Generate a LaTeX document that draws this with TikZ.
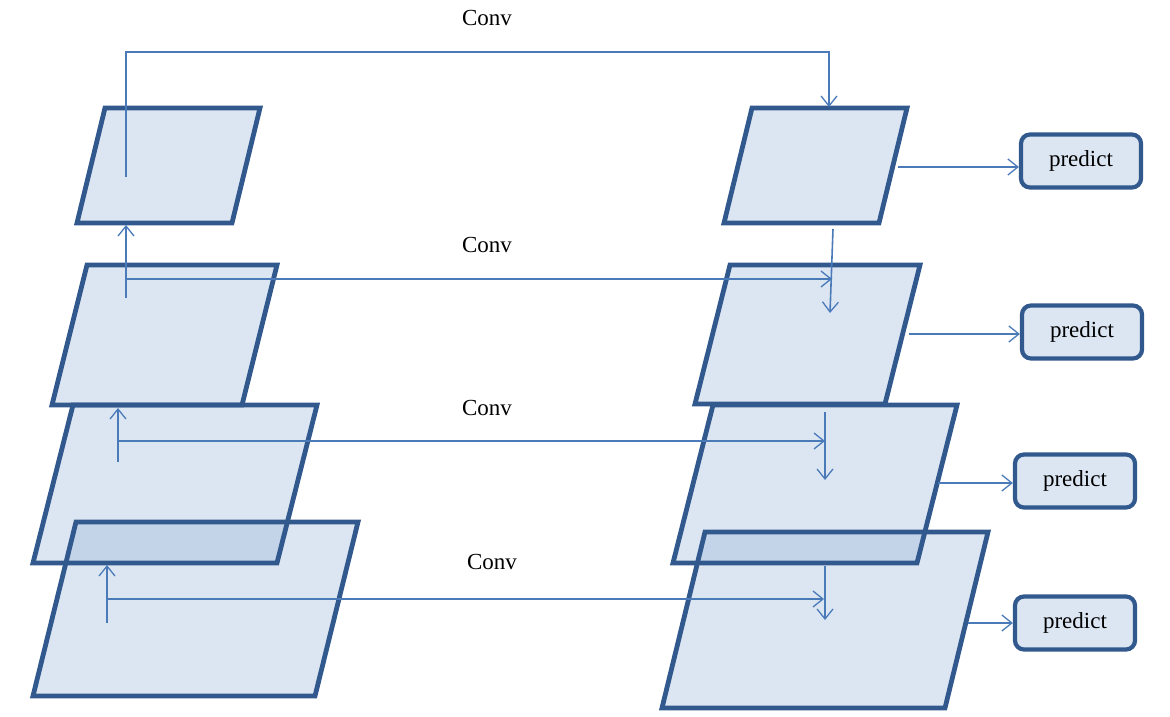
\documentclass[tikz,border=0pt]{standalone}
\usepackage{fontspec}
\setmainfont{Liberation Serif}
\usepackage{xcolor}
\usetikzlibrary{arrows.meta}
\definecolor{PlaneFill}{RGB}{220,230,242}
\definecolor{PlaneOver}{RGB}{195,212,233}
\definecolor{PlaneEdge}{RGB}{50,89,142}
\definecolor{LinkBlue}{RGB}{74,122,184}

\begin{document}
\begin{tikzpicture}[x=1pt,y=-1pt,
  plane/.style={draw=PlaneEdge,line width=4.8pt,line join=miter},
  pbox/.style={rounded corners=9pt,draw=PlaneEdge,line width=4.2pt,fill=PlaneFill,minimum width=120pt,minimum height=53pt,inner sep=0pt,font=\fontsize{23}{26}\selectfont},
  arr/.style={-{Straight Barb[length=10pt,width=16pt,line width=1.3pt]},LinkBlue,line width=1.6pt},
  lbl/.style={font=\fontsize{23}{26}\selectfont}
]
\useasboundingbox (0,0) rectangle (1170,717);
% corners of the feature planes: name/left x/top y/width/height/slant
\foreach \n/\tx/\ty/\w/\h/\s in {l1/105/108/155/115/28, l2/87/265/190/140/35,
    l3/73/405/244/158/40, l4/76/522/282/174/43, r1/752/108/155/115/28,
    r2/730/265/190/139/35, r3/713/405/244/158/40, r4/705/532/283/176/43}{
  \coordinate (\n-nw) at (\tx,\ty);
  \coordinate (\n-ne) at (\tx+\w,\ty);
  \coordinate (\n-se) at (\tx+\w-\s,\ty+\h);
  \coordinate (\n-sw) at (\tx-\s,\ty+\h);
}
\foreach \n in {l1,l2,l3,l4,r1,r2,r3,r4}
  \fill[PlaneFill] (\n-nw) -- (\n-ne) -- (\n-se) -- (\n-sw) -- cycle;
% darker band where the two lower planes overlap
\foreach \a/\b in {l3/l4, r3/r4}{
  \begin{scope}
    \clip (\a-nw) -- (\a-ne) -- (\a-se) -- (\a-sw) -- cycle;
    \fill[PlaneOver] (\b-nw) -- (\b-ne) -- (\b-se) -- (\b-sw) -- cycle;
  \end{scope}
}
\foreach \n in {l1,l2,l3,l4,r1,r2,r3,r4}
  \draw[plane] (\n-nw) -- (\n-ne) -- (\n-se) -- (\n-sw) -- cycle;

\node[pbox] (p1) at (1081,161) {predict};
\node[pbox] (p2) at (1082,332) {predict};
\node[pbox] (p3) at (1075,481) {predict};
\node[pbox] (p4) at (1075,623) {predict};

\node[lbl] (conv1) at (487,18) {Conv};
\node[lbl] (conv2) at (487,245) {Conv};
\node[lbl] (conv3) at (487,408) {Conv};
\node[lbl] (conv4) at (492,562) {Conv};

% connector ends
\coordinate (a1) at (126,177);
\coordinate (k1) at (829,52);
\coordinate (b1) at (829,107);
\coordinate (u2) at (126,298);
\coordinate (t2) at (126,225);
\coordinate (a2) at (126,279);
\coordinate (b2) at (832,279);
\coordinate (u3) at (118,462);
\coordinate (t3) at (118,408);
\coordinate (a3) at (118,441);
\coordinate (b3) at (825,441);
\coordinate (u4) at (107,623);
\coordinate (t4) at (107,565);
\coordinate (a4) at (107,599);
\coordinate (b4) at (824,599);
\coordinate (d1) at (833,229);
\coordinate (e1) at (830,313);
\coordinate (d2) at (825,412);
\coordinate (e2) at (825,480);
\coordinate (d3) at (825,566);
\coordinate (e3) at (825,620);
\coordinate (o1) at (898,167);
\coordinate (o2) at (909,334);
\coordinate (o3) at (938,483);
\coordinate (o4) at (968,623);

\draw[arr] (a1) |- (k1) -- (b1);
\draw[arr] (u2) -- (t2);
\draw[arr] (u3) -- (t3);
\draw[arr] (u4) -- (t4);
\draw[arr] (a2) -- (b2);
\draw[arr] (a3) -- (b3);
\draw[arr] (a4) -- (b4);
\draw[arr] (d1) -- (e1);
\draw[arr] (d2) -- (e2);
\draw[arr] (d3) -- (e3);
\draw[arr] (o1) -- (o1 -| p1.west);
\draw[arr] (o2) -- (o2 -| p2.west);
\draw[arr] (o3) -- (o3 -| p3.west);
\draw[arr] (o4) -- (o4 -| p4.west);
\end{tikzpicture}
\end{document}
